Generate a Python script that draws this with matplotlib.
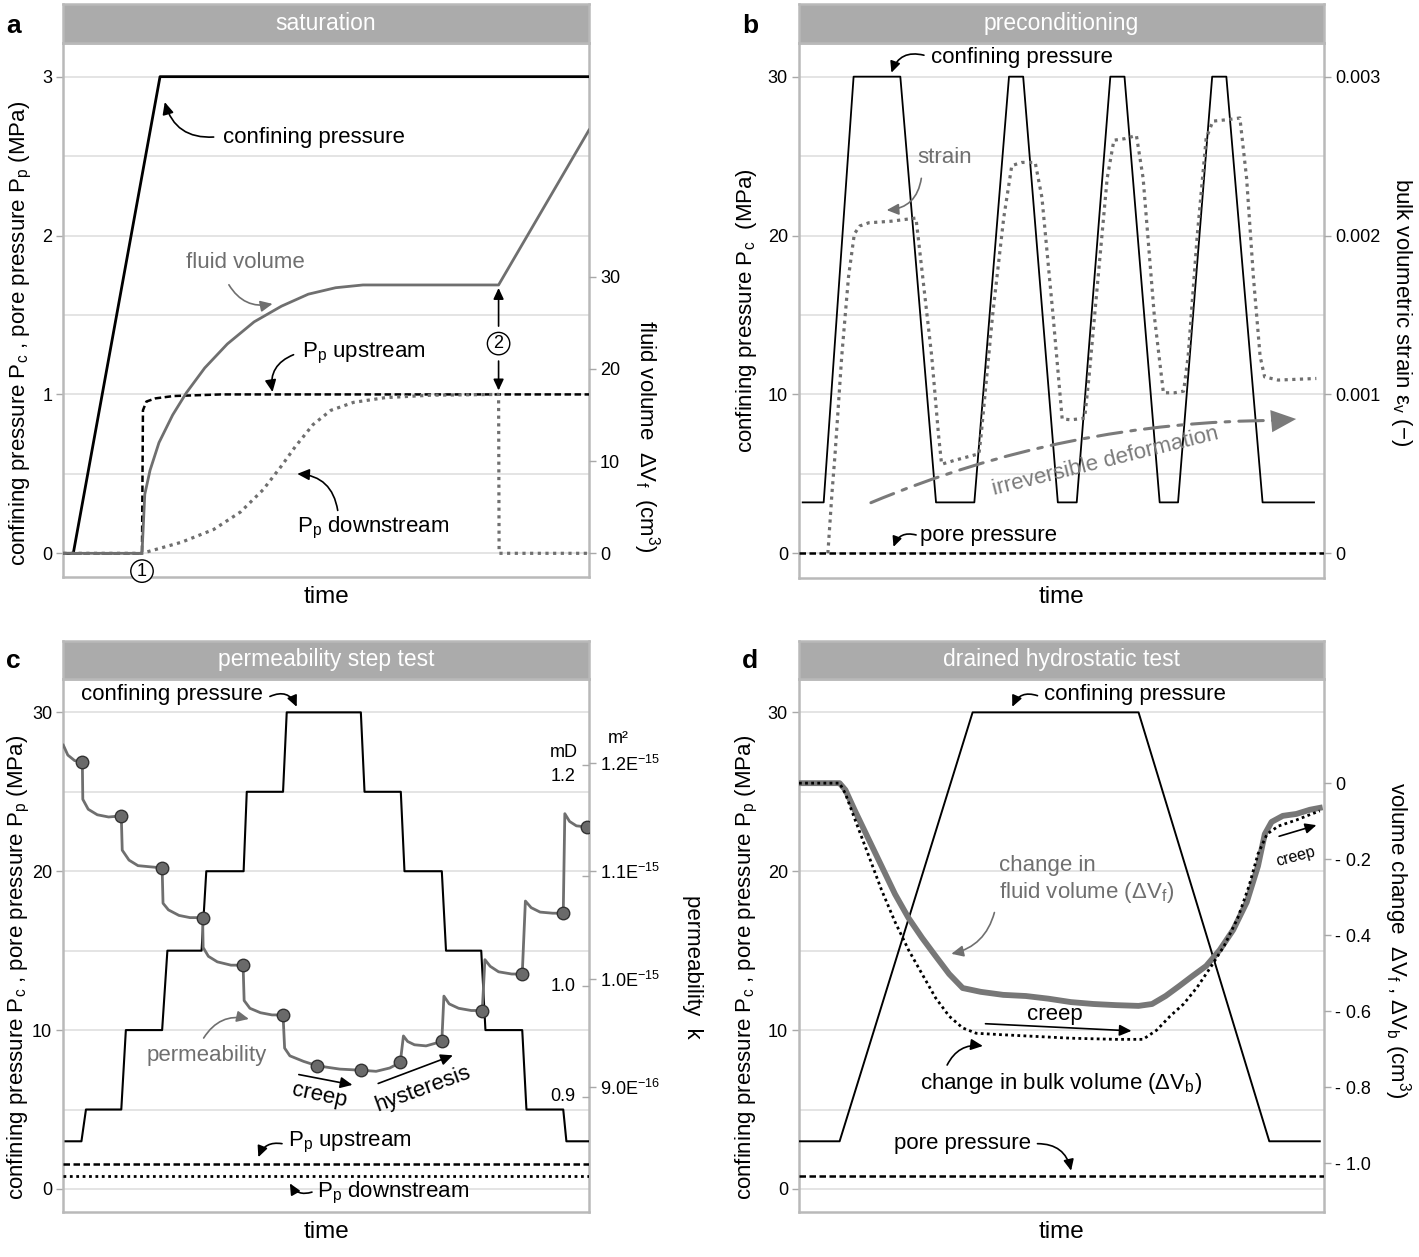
import matplotlib
matplotlib.use('Agg')
import matplotlib.pyplot as plt

plt.rcParams['font.family'] = ['Liberation Sans', 'DejaVu Sans']
plt.rcParams['mathtext.fontset'] = 'custom'
plt.rcParams['mathtext.rm'] = 'Liberation Sans'
plt.rcParams['mathtext.it'] = 'Liberation Sans:italic'
plt.rcParams['mathtext.bf'] = 'Liberation Sans:bold'
plt.rcParams['mathtext.default'] = 'regular'

FRAME = '#b9b9b9'
HEAD = '#ababab'
GRID = '#dcdcdc'
GRAY = '#6f6f6f'
TICKC = '#a8a8a8'
FS = 16          # annotation / label size
TS = 13          # tick label size

# ---------------- data ----------------
# (a) saturation
a_t_conf = [0, 1.9, 18.4, 100]
a_conf = [0, 0, 3, 3]
a_t_up = [0, 14.97, 15.15, 15.8, 17.5, 21, 30, 100]
a_up = [0, 0, 0.90, 0.955, 0.975, 0.99, 1.0, 1.0]
a_t_fluid = [0, 14.97, 15.5, 16.5, 18.2, 20.8, 23.4, 26.9, 31.2, 36.3, 41.5, 46.6,
             51.8, 57.0, 82.8, 100]
a_fluid = [0, 0, 6.4, 9.0, 12.0, 15.0, 17.4, 20.1, 22.7, 25.1, 26.8, 28.1,
           28.8, 29.1, 29.1, 45.9]
a_t_down = [0, 14.97, 22.5, 28.6, 33.7, 38.0, 41.5, 44.1, 47.5, 50.9, 55.2, 61.3,
            69.9, 82.8, 82.9, 100]
a_down = [0, 0, 0.07, 0.15, 0.26, 0.40, 0.55, 0.67, 0.81, 0.90, 0.95, 0.98,
          0.995, 1.0, 0, 0]

# (b) preconditioning
b_t_conf = [0.7, 4.7, 10.4, 19.3, 26.1, 33.4, 40.0, 42.7, 49.3, 52.9, 59.3, 62.0,
            68.7, 72.2, 78.7, 81.4, 88.3, 98.1]
b_conf = [3.2, 3.2, 30, 30, 3.2, 3.2, 30, 30, 3.2, 3.2, 30, 30,
          3.2, 3.2, 30, 30, 3.2, 3.2]
b_t_pore = [0, 100]
b_pore = [0, 0]
b_t_strain = [5.5, 6.26, 6.86, 8.14, 9.43, 10.54, 11.57, 13.28, 17.57, 22.28, 23.56,
              25.28, 26.56, 27.16, 29.56, 34.28, 34.70, 36.85, 38.99, 40.53, 42.42,
              44.99, 46.27, 48.41, 50.13, 51.84, 54.41, 55.27, 56.98, 58.70, 59.98,
              62.13, 64.27, 65.55, 67.69, 69.41, 71.55, 73.26, 74.12, 75.83, 77.55,
              78.83, 81.83, 83.98, 85.26, 86.55, 87.83, 88.69, 91.26, 98.54]
b_strain_milli = [0.0, 0.37, 0.62, 1.24, 1.74, 2.01, 2.06, 2.08, 2.09, 2.11, 1.74,
                  1.24, 0.75, 0.56, 0.584, 0.626, 0.746, 1.49, 2.11, 2.44, 2.46,
                  2.46, 2.24, 1.49, 0.845, 0.84, 0.85, 1.12, 1.74, 2.36, 2.60,
                  2.61, 2.63, 2.36, 1.49, 1.01, 1.01, 1.02, 1.24, 1.99, 2.61,
                  2.72, 2.73, 2.74, 2.36, 1.74, 1.24, 1.11, 1.09, 1.10]
b_strain_ticklabels = ['0', '0.001', '0.002', '0.003']

# (c) permeability step test
c_t_conf = [0.43, 3.45, 4.31, 11.03, 11.9, 18.8, 19.8, 26.3, 27.2, 34.3, 34.9, 41.8,
            42.5, 56.6, 57.3, 64.2, 64.9, 72.0, 72.8, 79.5, 80.3, 87.3, 88.1, 95.1,
            95.7, 100]
c_conf = [3, 3, 5, 5, 10, 10, 15, 15, 20, 20, 25, 25, 30, 30, 25, 25, 20, 20, 15, 15,
          10, 10, 5, 5, 3, 3]
c_up = [1.6, 1.6]
c_down = [0.8, 0.8]
c_t_perm = [0.0, 0.86, 2.16, 3.62, 3.71, 4.74, 6.47, 8.62, 11.03, 11.21, 12.5, 14.2,
            16.4, 18.8, 18.97, 20.0, 22.0, 24.1, 26.5, 26.6, 27.6, 29.3, 31.9, 34.2,
            34.4, 35.5, 37.5, 39.7, 41.8, 42.1, 43.1, 45.7, 48.3, 52.6, 56.6, 59.5,
            62.1, 64.1, 64.7, 65.5, 66.8, 69.0, 72.0, 72.4, 73.4, 75.2, 77.6, 79.7,
            80.2, 81.2, 82.8, 85.3, 87.3, 87.9, 89.0, 90.7, 93.1, 95.1, 95.4, 96.3,
            97.6, 99.6]
c_perm_mD = [1.218, 1.209, 1.204, 1.203, 1.169, 1.160, 1.155, 1.153, 1.154, 1.123,
             1.114, 1.109, 1.108, 1.107, 1.075, 1.069, 1.064, 1.062, 1.062, 1.035,
             1.027, 1.022, 1.019, 1.019, 0.987, 0.980, 0.976, 0.974, 0.974, 0.944,
             0.937, 0.932, 0.928, 0.925, 0.924, 0.923, 0.926, 0.931, 0.955, 0.950,
             0.947, 0.946, 0.950, 0.991, 0.984, 0.980, 0.978, 0.978, 1.024, 1.018,
             1.013, 1.011, 1.011, 1.077, 1.071, 1.067, 1.066, 1.066, 1.156, 1.149,
             1.145, 1.144]
c_t_dots = [3.62, 11.03, 18.8, 26.5, 34.2, 41.8, 48.3, 56.6, 64.1, 72.0, 79.7, 87.3,
            95.1, 99.6]
c_dots_mD = [1.203, 1.154, 1.107, 1.062, 1.019, 0.974, 0.928, 0.924, 0.931, 0.950,
             0.978, 1.011, 1.066, 1.144]
c_mD_ticks = [0.9, 1.0, 1.1, 1.2]
c_mD_labels = ['0.9', '1.0', '', '1.2']
c_m2_ticks = [9, 10, 11, 12]          # in 1e-16 m^2
c_m2_labels = ['9.0E$^{-16}$', '1.0E$^{-15}$', '1.1E$^{-15}$', '1.2E$^{-15}$']

# (d) drained hydrostatic test
d_t_conf = [0, 7.73, 33.05, 64.64, 89.53, 99.14]
d_conf = [3, 3, 30, 30, 3, 3]
d_pore = [0.8, 0.8]
d_t_fluid = [0.0, 7.73, 8.84, 10.56, 13.13, 15.71, 18.28, 20.86, 23.43, 26.01, 28.58,
             31.16, 34.59, 38.88, 43.18, 47.47, 51.76, 56.05, 60.34, 64.64, 67.21,
             69.79, 72.36, 74.94, 77.51, 80.09, 82.66, 85.24, 87.38, 88.67, 89.96,
             92.10, 94.68, 97.25, 99.14]
d_fluid = [0, 0, -0.018, -0.07, -0.144, -0.218, -0.292, -0.355, -0.407, -0.455,
           -0.502, -0.539, -0.549, -0.557, -0.560, -0.567, -0.576, -0.581, -0.584,
           -0.586, -0.581, -0.560, -0.534, -0.507, -0.481, -0.439, -0.386, -0.313,
           -0.218, -0.134, -0.102, -0.086, -0.081, -0.070, -0.065]
d_t_bulk = [0, 7.73, 8.84, 10.56, 13.13, 15.71, 18.28, 20.86, 23.43, 26.01, 28.58,
            31.16, 33.73, 38.88, 43.18, 51.76, 60.34, 65.49, 68.07, 70.64, 73.22,
            75.79, 78.37, 80.94, 83.52, 85.66, 87.38, 89.10, 91.25, 94.68, 97.25,
            99.14]
d_bulk = [0, 0, -0.028, -0.092, -0.186, -0.281, -0.365, -0.439, -0.502, -0.565,
          -0.613, -0.644, -0.658, -0.662, -0.665, -0.671, -0.674, -0.674, -0.650,
          -0.613, -0.581, -0.537, -0.484, -0.428, -0.355, -0.271, -0.186, -0.134,
          -0.113, -0.097, -0.083, -0.073]
d_vol_ticks = [0, -0.2, -0.4, -0.6, -0.8, -1.0]
d_vol_labels = ['0', '- 0.2', '- 0.4', '- 0.6', '- 0.8', '- 1.0']

# ---------------- figure ----------------
W, H = 1419, 1257
fig = plt.figure(figsize=(W / 100, H / 100), dpi=100)


def px_rect(x0, y0, x1, y1):
    return [x0 / W, 1 - y1 / H, (x1 - x0) / W, (y1 - y0) / H]


def setup(rect, head, title, letter, lxy, ylim, major, minor):
    ax = fig.add_axes(px_rect(*rect))
    for s in ax.spines.values():
        s.set_color(FRAME)
        s.set_linewidth(1.8)
    ax.set_xlim(0, 100)
    ax.set_ylim(*ylim)
    ax.set_xticks([])
    ax.set_yticks(major)
    ax.set_yticks(minor, minor=True)
    ax.set_axisbelow(True)
    ax.grid(axis='y', which='both', color=GRID, lw=1.1)
    ax.tick_params(axis='y', which='major', length=5, width=1, color=TICKC,
                   labelsize=TS, pad=3)
    ax.tick_params(axis='y', which='minor', length=0)
    ax.set_xlabel('time', fontsize=17.5, labelpad=6)
    hd = fig.add_axes(px_rect(*head))
    hd.set_facecolor(HEAD)
    hd.set_xticks([])
    hd.set_yticks([])
    for s in hd.spines.values():
        s.set_color(FRAME)
        s.set_linewidth(1.8)
    hd.text(0.5, 0.5, title, color='white', fontsize=16.5, ha='center', va='center',
            transform=hd.transAxes)
    fig.text(lxy[0] / W, 1 - lxy[1] / H, letter, fontweight='bold', fontsize=19,
             ha='left', va='center')
    return ax


def twin(ax, ylim):
    t = ax.twinx()
    t.set_xlim(0, 100)
    t.set_ylim(*ylim)
    for s in t.spines.values():
        s.set_visible(False)
    t.tick_params(axis='y', length=5, width=1, color=TICKC, labelsize=TS, pad=3)
    return t


def arr(ax, tail, tip, rad=0.0, color='black', lw=1.2, ms=12, hl=0.6, hw=0.28):
    ax.annotate('', xy=tip, xytext=tail,
                arrowprops=dict(arrowstyle=f'-|>,head_length={hl},head_width={hw}',
                                connectionstyle=f'arc3,rad={rad}', color=color, lw=lw,
                                shrinkA=0, shrinkB=0, mutation_scale=ms),
                annotation_clip=False)


def txt(ax, x, y, s, **kw):
    kw.setdefault('fontsize', FS)
    kw.setdefault('va', 'center')
    ax.text(x, y, s, **kw)


LBL_MAIN = 'confining pressure P$_c$ , pore pressure P$_p$ (MPa)'
dash = (0, (2.6, 1.4))

# ---------- panel a ----------
axa = setup((63.3, 43.3, 589, 577.3), (63.3, 4.3, 589, 43.3), 'saturation', 'a',
            (6, 26), (-0.151, 3.21), [0, 1, 2, 3], [0.5, 1.5, 2.5])
axa2 = twin(axa, (-0.151 / 0.05804, 3.21 / 0.05804))
axa2.set_yticks([0, 10, 20, 30])
axa.plot(a_t_conf, a_conf, color='black', lw=2.0, zorder=3)
axa.plot(a_t_up, a_up, color='black', lw=1.8, ls=dash, zorder=3)
axa.plot(a_t_down, a_down, color=GRAY, lw=2.3, ls=(0, (1, 1.4)), zorder=3)
axa2.plot(a_t_fluid, a_fluid, color=GRAY, lw=2.0)
axa.text(-0.08, 0.457, LBL_MAIN, rotation=90, fontsize=FS, ha='center', va='center',
         transform=axa.transAxes)
axa.text(1.11, 0.263, 'fluid volume  ΔV$_f$  (cm$^3$)', rotation=270, fontsize=FS,
         ha='center', va='center', transform=axa.transAxes)
txt(axa, 30.3, 2.62, 'confining pressure', ha='left')
arr(axa, (28.6, 2.62), (19.3, 2.84), rad=-0.4)
txt(axa, 34.6, 1.83, 'fluid volume', ha='center', color=GRAY)
arr(axa, (31.5, 1.69), (39.8, 1.57), rad=0.35, color=GRAY)
txt(axa, 45.4, 1.256, 'P$_p$ upstream', ha='left')
arr(axa, (43.8, 1.25), (39.8, 1.015), rad=0.4)
txt(axa, 44.5, 0.162, 'P$_p$ downstream', ha='left')
arr(axa, (52.2, 0.27), (44.5, 0.50), rad=0.4)
axa.text(82.8, 1.32, '2', fontsize=13, ha='center', va='center',
         bbox=dict(boxstyle='circle,pad=0.15', fc='white', ec='black', lw=1))
arr(axa, (82.8, 1.43), (82.8, 1.67), ms=11)
arr(axa, (82.8, 1.21), (82.8, 1.025), ms=11)
axa.text(14.97, -0.112, '1', fontsize=13, ha='center', va='center', zorder=6,
         bbox=dict(boxstyle='circle,pad=0.15', fc='white', ec='black', lw=1))

# ---------- panel b ----------
axb = setup((799, 43.3, 1324, 578), (799, 4.3, 1324, 43.3), 'preconditioning', 'b',
            (742, 26), (-1.56, 32.1), [0, 10, 20, 30], [5, 15, 25])
axb2 = twin(axb, (-0.156, 3.21))
axb2.set_yticks([0, 1, 2, 3])
axb2.set_yticklabels(b_strain_ticklabels)
axb.plot(b_t_conf, b_conf, color='black', lw=1.3, zorder=3)
axb.plot(b_t_pore, b_pore, color='black', lw=1.8, ls=dash, zorder=3)
axb2.plot(b_t_strain, b_strain_milli, color=GRAY, lw=2.3, ls=(0, (1, 1.4)))
axb.text(-0.1, 0.50, 'confining pressure P$_c$  (MPa)', rotation=90, fontsize=FS,
         ha='center', va='center', transform=axb.transAxes)
axb.text(1.147, 0.497, 'bulk volumetric strain ε$_v$ (−)', rotation=270, fontsize=FS,
         ha='center', va='center', transform=axb.transAxes)
txt(axb, 25.1, 31.2, 'confining pressure', ha='left')
arr(axb, (23.8, 31.35), (17.6, 30.25), rad=0.45, ms=11)
txt(axb, 27.8, 24.9, 'strain', ha='center', color=GRAY)
arr(axb, (23.3, 23.6), (16.7, 21.6), rad=-0.4, color=GRAY)
txt(axb, 23.1, 1.12, 'pore pressure', ha='left')
arr(axb, (22.3, 1.15), (18.0, 0.4), rad=0.45, ms=10)
axb.annotate('', xy=(91.2, 8.36), xytext=(13.7, 3.18),
             arrowprops=dict(arrowstyle='-', connectionstyle='arc3,rad=-0.1',
                             color='#7a7a7a', lw=2.2, linestyle=(0, (8, 3, 1.5, 3)),
                             shrinkA=0, shrinkB=0))
axb.annotate('', xy=(94.7, 8.45), xytext=(90.5, 8.33),
             arrowprops=dict(arrowstyle='-|>,head_length=0.9,head_width=0.4',
                             color='#7a7a7a', lw=0, mutation_scale=20,
                             shrinkA=0, shrinkB=0))
txt(axb, 58.3, 5.75, 'irreversible deformation', ha='center', color='#7a7a7a',
    rotation=14, rotation_mode='anchor')

# ---------- panel c ----------
axc = setup((63.3, 679, 589, 1212.3), (63.3, 640.7, 589, 679),
            'permeability step test', 'c', (6, 661), (-1.47, 32.1),
            [0, 10, 20, 30], [5, 15, 25])
axc3 = twin(axc, (7.835, 12.782))
axc3.set_yticks(c_m2_ticks)
axc3.set_yticklabels(c_m2_labels)
axc2 = twin(axc, (0.7955, 1.2778))
axc2.set_yticks(c_mD_ticks)
axc2.tick_params(axis='y', direction='in', labelright=False, length=5)
for v, s in zip(c_mD_ticks, c_mD_labels):
    axc2.text(0.975, v - (0.01 if s == '1.2' else 0), s, fontsize=TS, ha='right',
              va='center', transform=axc2.get_yaxis_transform())
axc2.text(0.979, 0.863, 'mD', fontsize=TS, ha='right', va='center',
          transform=axc2.transAxes)
axc2.text(1.055, 0.889, 'm²', fontsize=TS, ha='center', va='center',
          transform=axc2.transAxes)
axc.plot(c_t_conf, c_conf, color='black', lw=1.5, zorder=3)
axc.plot([0, 100], c_up, color='black', lw=1.8, ls=dash, zorder=3)
axc.plot([0, 100], c_down, color='black', lw=2.0, ls=(0, (1, 1.3)), zorder=3)
axc2.plot(c_t_perm, c_perm_mD, color=GRAY, lw=2.0)
axc2.plot(c_t_dots, c_dots_mD, ls='none', marker='o', ms=9, mfc='#6a6a6a',
          mec='#333333', mew=1.0)
axc.text(-0.085, 0.46, LBL_MAIN, rotation=90, fontsize=FS, ha='center', va='center',
         transform=axc.transAxes)
axc.text(1.196, 0.46, 'permeability  k', rotation=270, fontsize=FS, ha='center',
         va='center', transform=axc.transAxes)
txt(axc, 37.9, 31.1, 'confining pressure', ha='right')
arr(axc, (39.3, 31.0), (44.4, 30.35), rad=-0.5, ms=11)
txt(axc, 27.2, 8.4, 'permeability', ha='center', color=GRAY)
arr(axc, (26.7, 9.5), (35.3, 10.7), rad=-0.35, color=GRAY)
txt(axc, 48.7, 5.9, 'creep', ha='center', rotation=-12, rotation_mode='anchor')
arr(axc, (44.8, 7.2), (55.0, 6.55))
txt(axc, 68.5, 6.3, 'hysteresis', ha='center', rotation=20, rotation_mode='anchor')
arr(axc, (59.9, 6.64), (74.1, 8.41))
txt(axc, 42.7, 2.93, 'P$_p$ upstream', ha='left')
arr(axc, (41.6, 2.85), (37.1, 2.0), rad=0.4, ms=11)
txt(axc, 48.3, -0.25, 'P$_p$ downstream', ha='left')
arr(axc, (47.3, -0.2), (43.1, 0.35), rad=-0.4, ms=11)

# ---------- panel d ----------
axd = setup((799, 679, 1324.3, 1212.3), (799, 640.7, 1324.3, 679),
            'drained hydrostatic test', 'd', (742, 661), (-1.47, 32.1),
            [0, 10, 20, 30], [5, 15, 25])
axd2 = twin(axd, (-1.129, 0.274))
axd2.set_yticks(d_vol_ticks)
axd2.set_yticklabels(d_vol_labels)
axd.plot(d_t_conf, d_conf, color='black', lw=1.4, zorder=3)
axd.plot([0, 100], d_pore, color='black', lw=1.8, ls=dash, zorder=3)
axd2.plot(d_t_fluid, d_fluid, color='#777777', lw=4.2)
axd2.plot(d_t_bulk, d_bulk, color='black', lw=2.0, ls=(0, (1, 1.2)))
axd.text(-0.1, 0.46, LBL_MAIN, rotation=90, fontsize=FS, ha='center', va='center',
         transform=axd.transAxes)
axd.text(1.139, 0.51, 'volume change  ΔV$_f$ , ΔV$_b$ (cm$^3$)', rotation=270,
         fontsize=FS, ha='center', va='center', transform=axd.transAxes)
txt(axd, 46.6, 31.1, 'confining pressure', ha='left')
arr(axd, (45.4, 31.05), (40.6, 30.35), rad=0.45, ms=11)
txt(axd, 38.0, 19.45, 'change in\nfluid volume (ΔV$_f$)', ha='left', color=GRAY,
    linespacing=1.25)
arr(axd, (37.2, 17.4), (29.0, 14.8), rad=-0.3, color=GRAY)
txt(axd, 48.8, 11.0, 'creep', ha='center')
arr(axd, (35.5, 10.4), (63.3, 9.95))
txt(axd, 23.0, 6.62, 'change in bulk volume (ΔV$_b$)', ha='left')
arr(axd, (28.2, 7.8), (35.0, 9.0), rad=-0.35)
txt(axd, 44.2, 2.85, 'pore pressure', ha='right')
arr(axd, (45.4, 2.85), (51.8, 1.15), rad=-0.4, ms=11)
txt(axd, 94.6, 20.9, 'creep', ha='center', fontsize=11.5, rotation=15,
    rotation_mode='anchor')
arr(axd, (91.4, 22.2), (98.5, 22.9), ms=11)

fig.savefig('out.png', dpi=100)
